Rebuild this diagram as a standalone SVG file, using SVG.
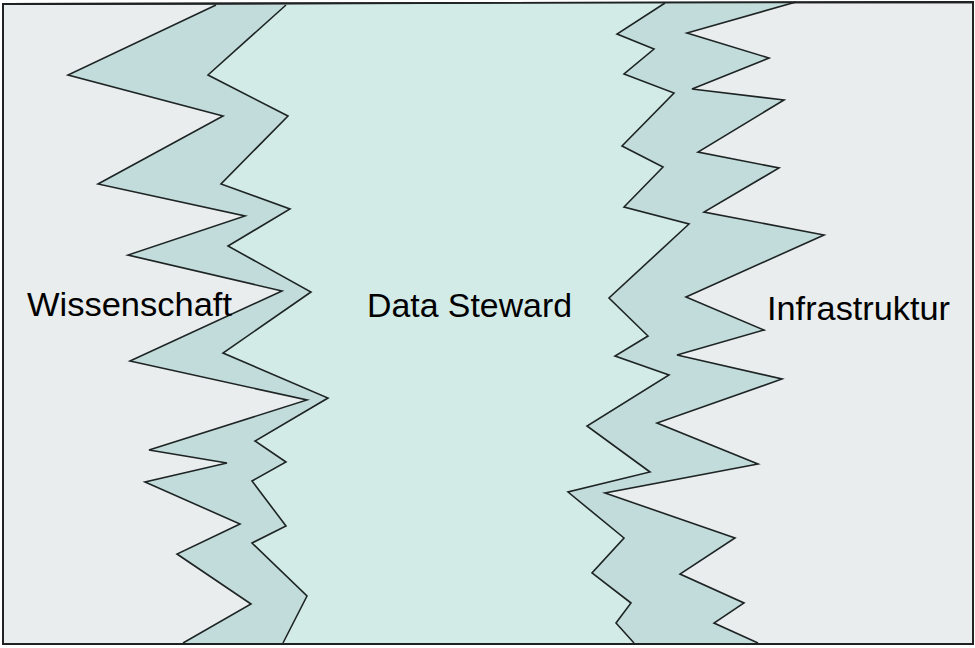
<svg xmlns="http://www.w3.org/2000/svg" width="975" height="648" viewBox="0 0 975 648">
  <style>
    .edge { fill: none; stroke: #1e2424; stroke-width: 1.6; stroke-linejoin: miter; }
    .label { font-family: "Liberation Sans", Arial, sans-serif; font-size: 33px; fill: #000; }
  </style>
  <rect x="0" y="0" width="975" height="648" fill="#ffffff"/>
  <!-- outer frame -->
  <g id="frame">
    <polygon points="3,4 973,2 973,644 3,644" fill="#e9eded" stroke="#1e2222" stroke-width="1.8"/>
  </g>
  <!-- bands -->
  <g id="bands">
    <polygon fill="#c1dcda" points="216,5 68,75 223,116 98,184 245,216 128,255 282,291 130,361 307,400 149,450 227,463 145,482 240,524 177,554 251,604 183,643 758,643 714,623 744,603 680,574 735,538 605,493 758,464 657,423 782,379 677,355 764,330 686,297 824,235 704,212 779,168 698,152 784,100 692,89 769,58 687,33 796,2"/>
    <polygon fill="#d3ebe6" points="286,5 208,75 288,116 221,184 290,209 228,246 311,292 223,353 328,398 255,441 286,462 252,481 286,526 252,543 307,596 283,643 634,643 616,623 631,603 592,573 624,538 568,492 650,472 587,426 669,375 615,356 648,336 609,298 689,224 624,207 663,167 622,146 674,93 624,74 654,49 617,34 665,3"/>
  </g>
  <g id="edges">
    <polyline class="edge" points="216,5 68,75 223,116 98,184 245,216 128,255 282,291 130,361 307,400 149,450 227,463 145,482 240,524 177,554 251,604 183,643"/>
    <polyline class="edge" points="286,5 208,75 288,116 221,184 290,209 228,246 311,292 223,353 328,398 255,441 286,462 252,481 286,526 252,543 307,596 283,643"/>
    <polyline class="edge" points="665,3 617,34 654,49 624,74 674,93 622,146 663,167 624,207 689,224 609,298 648,336 615,356 669,375 587,426 650,472 568,492 624,538 592,573 631,603 616,623 634,643"/>
    <polyline class="edge" points="796,2 687,33 769,58 692,89 784,100 698,152 779,168 704,212 824,235 686,297 764,330 677,355 782,379 657,423 758,464 605,493 735,538 680,574 744,603 714,623 758,643"/>
  </g>
  <g id="frame-line">
    <polygon points="3,4 973,2 973,644 3,644" fill="none" stroke="#1e2222" stroke-width="1.8"/>
  </g>
  <g id="wissenschaft">
    <text class="label" x="27" y="316" textLength="205" lengthAdjust="spacingAndGlyphs">Wissenschaft</text>
  </g>
  <g id="data-steward">
    <text class="label" x="367" y="317" textLength="205" lengthAdjust="spacingAndGlyphs">Data Steward</text>
  </g>
  <g id="infrastruktur">
    <text class="label" x="767" y="320" textLength="183" lengthAdjust="spacingAndGlyphs">Infrastruktur</text>
  </g>
</svg>
